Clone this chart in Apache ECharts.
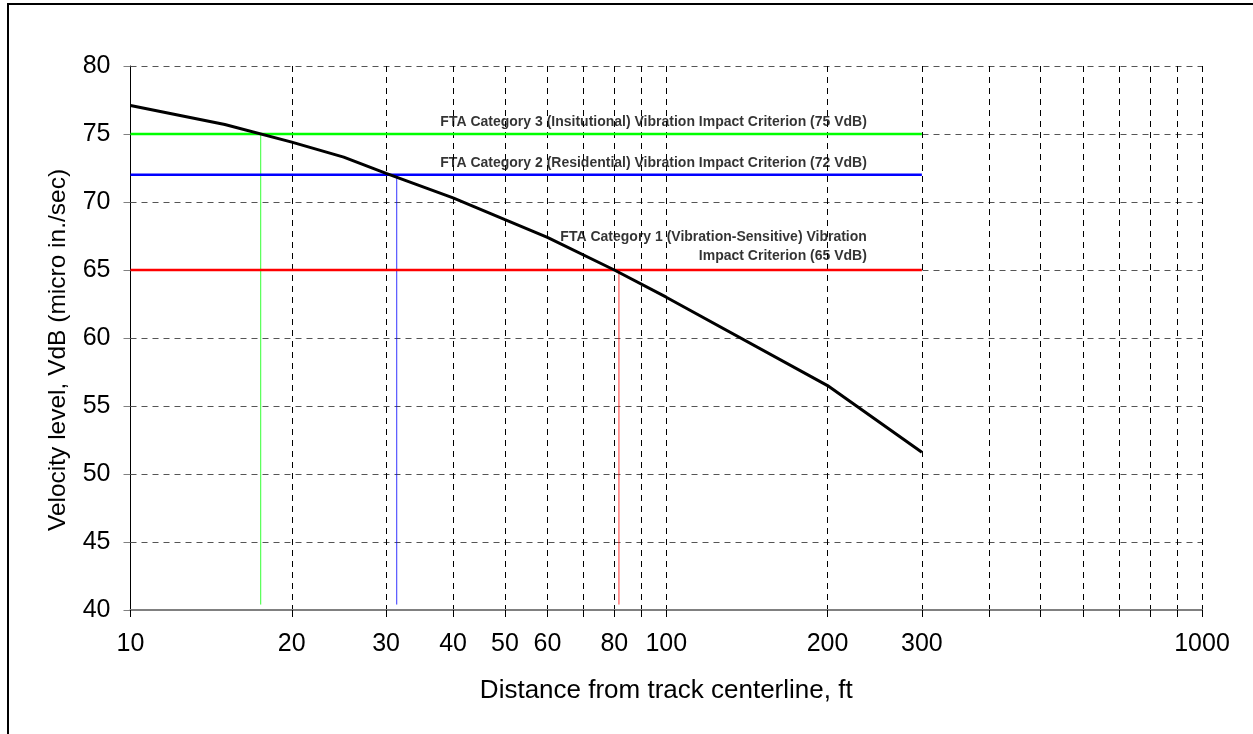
<!DOCTYPE html>
<html>
<head>
<meta charset="utf-8">
<script src="https://cdn.jsdelivr.net/npm/echarts@6/dist/echarts.min.js"></script>
<style>
  html, body { margin: 0; padding: 0; background: #fff; }
  #chart { width: 1253px; height: 734px; }
</style>
</head>
<body>
<div id="chart"></div>
<script>
// ground-borne vibration vs distance
var distance = [10, 15, 20, 25, 30, 40, 50, 60, 80, 100, 200, 300];
var velocity = [77.1, 75.7, 74.4, 73.3, 72.1, 70.3, 68.7, 67.4, 65.0, 63.0, 56.5, 51.6];

// FTA criteria
var criteria = [75, 72, 65];
var criteriaColors = ['#00ff00', '#0000ff', '#ff0000'];
var crossDistance = [17.5, 31.4, 81.6];
var criteriaStart = 10;
var criteriaEnd = 300;
var dropTo = 40.4;
var criteriaText = [
    'FTA Category 3 (Insitutional) Vibration Impact Criterion (75 VdB)',
    'FTA Category 2 (Residential) Vibration Impact Criterion (72 VdB)',
    'FTA Category 1 (Vibration-Sensitive) Vibration\nImpact Criterion (65 VdB)'
];
var labelLift = [-12, -12, -23];

// axes
var xTicks = [10, 20, 30, 40, 50, 60, 70, 80, 90, 100, 200, 300, 400, 500, 600, 700, 800, 900, 1000];
var xLabels = [10, 20, 30, 40, 50, 60, 80, 100, 200, 300, 1000];
var yMin = 40, yMax = 80, yStep = 5;

var font = '"Liberation Sans", Arial, sans-serif';

var series = [];
criteria.forEach(function (c, i) {
    series.push({
        type: 'line',
        data: [[criteriaStart, c], [criteriaEnd, c]],
        symbol: 'none',
        lineStyle: {color: criteriaColors[i], width: 2.5},
        z: 3
    });
    series.push({
        type: 'line',
        data: [[crossDistance[i], c], [crossDistance[i], dropTo]],
        symbol: 'none',
        lineStyle: {color: criteriaColors[i], width: 1, opacity: 0.8},
        z: 3
    });
    series.push({
        type: 'scatter',
        data: [[criteriaEnd, c]],
        symbolSize: 0,
        silent: true,
        label: {
            show: true,
            position: 'left',
            distance: 55,
            offset: [0, labelLift[i]],
            formatter: criteriaText[i],
            fontFamily: font,
            fontWeight: 'bold',
            fontSize: 14,
            lineHeight: 19,
            color: '#000'
        },
        z: 5
    });
});
series.push({
    type: 'line',
    data: distance.map(function (d, i) { return [d, velocity[i]]; }),
    symbol: 'none',
    lineStyle: {color: '#000', width: 3},
    z: 4
});

var chart = echarts.init(document.getElementById('chart'));
chart.setOption({
    animation: false,
    backgroundColor: '#fff',
    graphic: [{
        type: 'rect',
        shape: {x: 8, y: 4, width: 1270, height: 800},
        style: {fill: null, stroke: '#000', lineWidth: 2},
        silent: true
    }],
    grid: {left: 130.5, right: 51, top: 66, bottom: 124},
    xAxis: {
        type: 'log',
        logBase: 10,
        min: 10,
        max: 1000,
        name: 'Distance from track centerline, ft',
        nameLocation: 'middle',
        nameGap: 68,
        nameTextStyle: {fontFamily: font, fontSize: 26, color: '#000'},
        axisLine: {show: true, lineStyle: {color: '#808080', width: 2}},
        axisTick: {show: true, length: 7, customValues: xTicks, lineStyle: {color: '#000'}},
        axisLabel: {
            customValues: xLabels,
            margin: 22,
            fontFamily: font,
            fontSize: 25,
            color: '#000',
            formatter: function (v) { return String(Math.round(v)); }
        },
        splitLine: {show: true, lineStyle: {color: '#000', type: [6, 5], width: 1}},
        minorTick: {show: false}
    },
    yAxis: {
        type: 'value',
        min: yMin,
        max: yMax,
        interval: yStep,
        name: 'Velocity level, VdB (micro in./sec)',
        nameLocation: 'middle',
        nameGap: 60,
        nameTextStyle: {fontFamily: font, fontSize: 24.5, color: '#000', padding: [0, 24, 0, 0]},
        axisLine: {show: true, lineStyle: {color: '#000', width: 1}},
        axisTick: {show: true, length: 7, lineStyle: {color: '#808080'}},
        axisLabel: {margin: 20, fontFamily: font, fontSize: 25, color: '#000'},
        splitLine: {show: true, lineStyle: {color: '#555', type: [6, 5], width: 1}}
    },
    series: series
});
</script>
</body>
</html>
